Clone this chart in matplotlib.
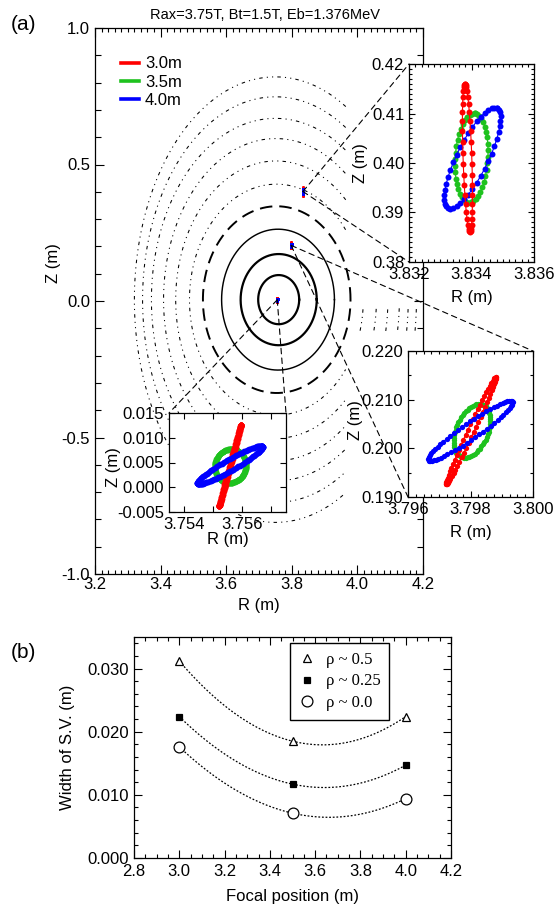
import numpy as np
import matplotlib
matplotlib.use("Agg")
import matplotlib.pyplot as plt
from matplotlib.ticker import MultipleLocator, FormatStrFormatter
from matplotlib.patches import ConnectionPatch
from matplotlib.lines import Line2D

plt.rcParams['font.family'] = ['Liberation Sans', 'DejaVu Sans']
plt.rcParams['axes.unicode_minus'] = False
plt.rcParams['lines.scale_dashes'] = False

# ---------------- data ----------------
title_text = "Rax=3.75T, Bt=1.5T, Eb=1.376MeV"
focal_labels = ['3.0m', '3.5m', '4.0m']
focal_colors = ['#ff0000', '#1ec21e', '#0000ff']

# flux surfaces (centre R, half width, half height), inner -> outer
surf_center_R = [3.760, 3.760, 3.758, 3.754, 3.753, 3.752, 3.751, 3.750, 3.750, 3.750]
surf_center_Z = 0.005
surf_half_width = [0.0625, 0.116, 0.172, 0.225, 0.265, 0.306, 0.342, 0.378, 0.405, 0.430]
surf_half_height = [0.090, 0.167, 0.258, 0.342, 0.423, 0.508, 0.590, 0.664, 0.743, 0.816]
surf_kind = ['solid', 'solid', 'solid', 'dashed'] + ['dotted'] * 6

# sampling volumes (order: focal 3.0m, 3.5m, 4.0m): centre, major half-axis, minor half-axis
sv_edge_center = [(3.83387, 0.4010), (3.83400, 0.4010), (3.83403, 0.4010)]
sv_edge_major = [(-0.00008, 0.0150), (0.00010, 0.0090), (0.00078, 0.0101)]
sv_edge_minor = [(0.00014, 0.0), (0.00052, -0.0004), (0.00045, -0.0014)]

sv_mid_center = [(3.79801, 0.20358), (3.79805, 0.2036), (3.79800, 0.2036)]
sv_mid_major = [(0.00079, 0.0110), (0.00025, 0.0055), (0.00134, 0.0060)]
sv_mid_minor = [(0.00009, -0.00026), (0.00053, -0.0002), (0.000147, -0.00134)]

sv_core_center = [(3.75559, 0.0044), (3.75560, 0.0043), (3.755585, 0.0045)]
sv_core_major = [(0.00037, 0.0082), (0.000026, 0.0034), (0.00111, 0.00374)]
sv_core_minor = [(0.00002, -0.00008), (0.00053, 0.0), (0.000093, -0.00097)]

# panel (b)
focal_pos = [3.0, 3.5, 4.0]
width_rho05 = [0.0312, 0.0185, 0.0224]
width_rho025 = [0.0224, 0.0117, 0.0147]
width_rho00 = [0.0176, 0.0071, 0.0094]
legend_b = ['\u03c1 ~ 0.5', '\u03c1 ~ 0.25', '\u03c1 ~ 0.0']

# ---------------- helpers ----------------
W, H = 555, 911
fig = plt.figure(figsize=(W / 100, H / 100), dpi=100)


def add_px(x0, x1, y0, y1):
    return fig.add_axes([x0 / W, 1 - y1 / H, (x1 - x0) / W, (y1 - y0) / H])


def ellipse(c, u, v, n):
    t = np.linspace(0, 2 * np.pi, n, endpoint=False)
    R = c[0] + u[0] * np.cos(t) + v[0] * np.sin(t)
    Z = c[1] + u[1] * np.cos(t) + v[1] * np.sin(t)
    return np.append(R, R[0]), np.append(Z, Z[0])


def style(ax, xmaj, xmin, ymaj, ymin, xfmt, yfmt, maj_len, min_len, fs=12, ymin_len=None):
    ax.xaxis.set_major_locator(MultipleLocator(xmaj))
    ax.xaxis.set_minor_locator(MultipleLocator(xmin))
    ax.yaxis.set_major_locator(MultipleLocator(ymaj))
    ax.yaxis.set_minor_locator(MultipleLocator(ymin))
    ax.xaxis.set_major_formatter(FormatStrFormatter(xfmt))
    ax.yaxis.set_major_formatter(FormatStrFormatter(yfmt))
    ax.tick_params(which='both', direction='in', top=True, right=True, labelsize=fs, width=0.8)
    ax.tick_params(which='major', length=maj_len)
    ax.tick_params(which='minor', length=min_len)
    if ymin_len is not None:
        ax.tick_params(axis='y', which='minor', length=ymin_len)
    for s in ax.spines.values():
        s.set_linewidth(0.9)


# ---------------- panel (a) main ----------------
ax = add_px(95, 423, 28, 574)
ax.set_xlim(3.2, 4.2)
ax.set_ylim(-1.0, 1.0)
style(ax, 0.2, 0.02, 0.5, 0.1, '%.1f', '%.1f', 6.5, 3.0, fs=12, ymin_len=4.5)
ax.tick_params(axis='x', pad=2.5)
ax.set_xlabel('R (m)', fontsize=12)
ax.set_ylabel('Z (m)', fontsize=12)
ax.xaxis.set_label_coords(0.5, -0.044)
ax.yaxis.set_label_coords(-0.104, 0.57)

for Rc, a, h, kind in zip(surf_center_R, surf_half_width, surf_half_height, surf_kind):
    t = np.linspace(0, 2 * np.pi, 900)
    R = Rc + a * np.cos(t)
    Z = surf_center_Z + h * np.sin(t)
    if kind == 'solid':
        lw = 1.6 if h < 0.2 else 1.05
        ax.plot(R, Z, color='black', lw=lw, zorder=1)
    elif kind == 'dashed':
        ax.plot(R, Z, color='black', lw=1.4, ls=(0, (9, 5)), zorder=1)
    else:
        hide = (R > 3.965) & ~((Z < -0.02) & (Z > -0.11))
        R = np.where(hide, np.nan, R)
        ax.plot(R, Z, color='black', lw=0.75, ls=(0, (2.5, 3, 0.8, 3, 0.8, 3)), zorder=1)

for group in [(sv_edge_center, sv_edge_major, sv_edge_minor),
              (sv_mid_center, sv_mid_major, sv_mid_minor),
              (sv_core_center, sv_core_major, sv_core_minor)]:
    for c, u, v, col in zip(group[0], group[1], group[2], focal_colors):
        R, Z = ellipse(c, u, v, 60)
        ax.plot(R, Z, 'o', color=col, ms=1.8, mew=0, zorder=3)

handles = [Line2D([], [], color=c, lw=2.6) for c in focal_colors]
ax.legend(handles, focal_labels, loc='upper left', bbox_to_anchor=(0.079, 0.948),
          frameon=False, fontsize=12, handlelength=1.1, handletextpad=0.35,
          labelspacing=0.2, borderpad=0, borderaxespad=0)

# ---------------- insets ----------------
ins1 = add_px(409, 534, 64, 262)
ins1.set_xlim(3.832, 3.836)
ins1.set_ylim(0.38, 0.42)
style(ins1, 0.002, 0.0002, 0.01, 0.001, '%.3f', '%.2f', 4.0, 2.2)
for i in [1, 2, 0]:
    R, Z = ellipse(sv_edge_center[i], sv_edge_major[i], sv_edge_minor[i], 42)
    ins1.plot(R, Z, 'o-', color=focal_colors[i], ms=4.3, mew=0, lw=0.8)

ins2 = add_px(408, 533, 351, 497)
ins2.set_xlim(3.796, 3.800)
ins2.set_ylim(0.190, 0.220)
style(ins2, 0.002, 0.00025, 0.01, 0.005, '%.3f', '%.3f', 4.0, 2.5)
for i in [1, 0, 2]:
    R, Z = ellipse(sv_mid_center[i], sv_mid_major[i], sv_mid_minor[i], 64)
    ins2.plot(R, Z, 'o-', color=focal_colors[i], ms=3.8, mew=0, lw=0.8)

ins3 = add_px(169, 286, 413, 512)
ins3.set_xlim(3.7535, 3.7575)
ins3.set_ylim(-0.005, 0.015)
style(ins3, 0.001, 0.001, 0.005, 0.005, '%.3f', '%.3f', 4.5, 4.5)
ins3.set_xticks([3.754, 3.755, 3.756, 3.757])
ins3.set_xticklabels(['3.754', '', '3.756', ''])
for i in [1, 0, 2]:
    R, Z = ellipse(sv_core_center[i], sv_core_major[i], sv_core_minor[i], 140)
    ins3.plot(R, Z, 'o-', color=focal_colors[i], ms=4.2, mew=0, lw=2)

for a_, xl, yl, xr, yr in [(ins1, 0.5, -0.141, -0.328, 0.5),
                           (ins2, 0.5, -0.192, -0.36, 0.527),
                           (ins3, 0.5, -0.202, -0.41, 0.45)]:
    a_.set_xlabel('R (m)', fontsize=12)
    a_.set_ylabel('Z (m)', fontsize=12)
    a_.xaxis.set_label_coords(xl, yl)
    a_.yaxis.set_label_coords(xr, yr)

# zoom connector lines
conn = [(sv_edge_center[1], ins1, (0, 1)), (sv_edge_center[1], ins1, (0, 0)),
        (sv_mid_center[1], ins2, (1, 1)), (sv_mid_center[1], ins2, (0, 0)),
        (sv_core_center[1], ins3, (0, 1)), (sv_core_center[1], ins3, (1, 1))]
for c, axb, corner in conn:
    cp = ConnectionPatch(xyA=c, coordsA=ax.transData, xyB=corner, coordsB=axb.transAxes,
                         color='black', lw=0.8, ls=(0, (4, 3)))
    fig.add_artist(cp)

fig.text(265 / W, 1 - 15 / H, title_text, ha='center', va='center', fontsize=10.5)
fig.text(23 / W, 1 - 25 / H, '(a)', ha='center', va='center', fontsize=15)
fig.text(23 / W, 1 - 653 / H, '(b)', ha='center', va='center', fontsize=15)

# ---------------- panel (b) ----------------
bx = add_px(134, 451, 637, 858)
bx.set_xlim(2.8, 4.2)
bx.set_ylim(0.0, 0.035)
style(bx, 0.2, 0.05, 0.010, 0.002, '%.1f', '%.3f', 6.0, 3.0)
bx.tick_params(axis='x', pad=4)
bx.set_xlabel('Focal position (m)', fontsize=12)
bx.set_ylabel('Width of S.V. (m)', fontsize=12)
bx.xaxis.set_label_coords(0.5, -0.14)
bx.yaxis.set_label_coords(-0.185, 0.5)

xf = np.linspace(focal_pos[0], focal_pos[-1], 200)
series = [(width_rho05, '^', 'white', 5.5), (width_rho025, 's', 'black', 5.0), (width_rho00, 'o', 'white', 7.8)]
hs = []
for w, mk, fc, ms in series:
    coef = np.polyfit(focal_pos, w, 2)
    bx.plot(xf, np.polyval(coef, xf), color='black', lw=0.9, ls=(0, (1.3, 1.3)), zorder=2)
    h, = bx.plot(focal_pos, w, mk, mfc=fc, mec='black', ms=ms, mew=0.9, zorder=3)
    hs.append(h)
leg = bx.legend(hs, legend_b, loc='upper left', bbox_to_anchor=(0.492, 0.972),
                prop={'family': 'Liberation Serif', 'size': 12}, frameon=True, fancybox=False,
                edgecolor='black', framealpha=1, handlelength=1.0, handletextpad=0.65,
                labelspacing=0.35, borderpad=0.5, borderaxespad=0)
leg.get_frame().set_linewidth(1.0)

fig.savefig('out.png', dpi=100)
